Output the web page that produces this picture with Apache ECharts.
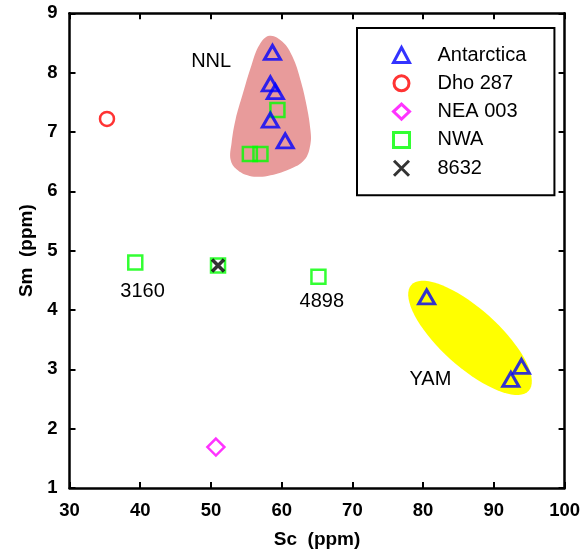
<!DOCTYPE html>
<html><head><meta charset="utf-8">
<script src="https://cdn.jsdelivr.net/npm/echarts@6/dist/echarts.min.js"></script>
<style>html,body{margin:0;padding:0;background:#fff}#c{width:583px;height:554px}</style>
</head><body><div id="c"></div>
<script>
// ---- data ----
const xTicks = [30, 40, 50, 60, 70, 80, 90, 100];
const yTicks = [1, 2, 3, 4, 5, 6, 7, 8, 9];
const antarcticaSc = [58.7, 58.4, 59.1, 58.4, 60.5, 80.5, 93.9, 92.4];
const antarcticaSm = [8.34, 7.81, 7.68, 7.20, 6.85, 4.22, 3.05, 2.83];
const dhoSc = [35.3];
const dhoSm = [7.22];
const neaSc = [50.7];
const neaSm = [1.69];
const nwaSc = [59.4, 55.5, 57.0, 39.3, 51.0, 65.2];
const nwaSm = [7.37, 6.63, 6.63, 4.80, 4.75, 4.56];
const x8632Sc = [51.0];
const x8632Sm = [4.75];
const noteText = ['NNL', '3160', '4898', 'YAM'];
const noteSc = [50.1, 40.4, 65.75, 81.1];
const noteSm = [8.18, 4.31, 4.14, 2.82];
// NNL field outline (Sc, Sm)
const nnlSc = [58.28, 60.11, 61.52, 62.65, 63.50, 64.06, 64.06, 63.22, 61.10, 58.00, 55.46, 53.62, 52.78, 52.92, 53.48, 54.47, 55.74, 56.87];
const nnlSm = [8.62, 8.52, 8.27, 7.88, 7.46, 7.04, 6.79, 6.53, 6.37, 6.26, 6.26, 6.37, 6.53, 6.82, 7.21, 7.63, 8.13, 8.47];
// YAM field centre (Sc, Sm)
const yamCenter = [86.63, 3.53];

const FONT = "'Liberation Sans', Arial, sans-serif";
const zip = (a, b) => a.map((v, i) => [v, b[i]]);

const chart = echarts.init(document.getElementById('c'), null, {renderer: 'canvas'});

const axisCommon = {
  axisLine: {show: true, lineStyle: {color: '#000', width: 2.5}},
  axisTick: {show: true, inside: true, length: 6, lineStyle: {color: '#000', width: 2}},
  splitLine: {show: false}
};

const option = {
  animation: false,
  backgroundColor: '#fff',
  grid: {left: 69.5, right: 16.5, top: 13.3, bottom: 65, containLabel: false},
  xAxis: [
    Object.assign({type: 'value', min: 30, max: 100, interval: 10, position: 'bottom',
      name: 'Sc  (ppm)', nameLocation: 'middle', nameGap: 42,
      nameTextStyle: {fontFamily: FONT, fontWeight: 'bold', fontSize: 19, color: '#000'},
      axisLabel: {fontFamily: FONT, fontWeight: 'bold', fontSize: 18.5, color: '#000', margin: 13,
        formatter: v => xTicks.includes(v) ? String(v) : ''}}, axisCommon),
    Object.assign({type: 'value', min: 30, max: 100, interval: 10, position: 'top',
      axisLabel: {show: false}}, axisCommon)
  ],
  yAxis: [
    Object.assign({type: 'value', min: 1, max: 9, interval: 1, position: 'left',
      name: 'Sm  (ppm)', nameLocation: 'middle', nameGap: 33,
      nameTextStyle: {fontFamily: FONT, fontWeight: 'bold', fontSize: 19, color: '#000'},
      axisLabel: {fontFamily: FONT, fontWeight: 'bold', fontSize: 18.5, color: '#000', margin: 12,
        formatter: v => yTicks.includes(v) ? String(v) : ''}}, axisCommon),
    Object.assign({type: 'value', min: 1, max: 9, interval: 1, position: 'right',
      axisLabel: {show: false}}, axisCommon)
  ],
  legend: {
    show: true,
    data: ['Antarctica', 'Dho 287', 'NEA 003', 'NWA', '8632'],
    orient: 'vertical',
    left: 357, top: 28,
    padding: [17, 28, 17, 34],
    itemWidth: 16, itemHeight: 15, itemGap: 8.3,
    borderColor: '#000', borderWidth: 2, backgroundColor: '#fff',
    itemStyle: {borderWidth: 3},
    textStyle: {fontFamily: FONT, fontSize: 20, color: '#000', padding: [0, 0, 0, 23]},
    selectedMode: false
  },
  series: [
    {
      type: 'custom', name: 'NNLfield', z: 1, silent: true,
      data: [0],
      renderItem: function (params, api) {
        const pts = nnlSc.map((x, i) => api.coord([x, nnlSm[i]]));
        return {type: 'polygon', shape: {points: pts, smooth: 0.4}, style: {fill: '#e89b9b', stroke: null}};
      }
    },
    {
      type: 'custom', name: 'YAMfield', z: 1, silent: true,
      data: [yamCenter],
      renderItem: function (params, api) {
        const c = api.coord([api.value(0), api.value(1)]);
        const a = 79, b = 29, th = 42 * Math.PI / 180;
        const pts = [];
        for (let k = 0; k < 72; k++) {
          const t = k / 72 * 2 * Math.PI;
          const ex = a * Math.cos(t), ey = b * Math.sin(t);
          pts.push([c[0] + ex * Math.cos(th) - ey * Math.sin(th), c[1] + ex * Math.sin(th) + ey * Math.cos(th)]);
        }
        return {type: 'polygon', shape: {points: pts}, style: {fill: '#ffff00', stroke: null}};
      }
    },
    {
      type: 'scatter', name: 'NWA', z: 3, data: zip(nwaSc, nwaSm),
      symbol: 'rect', symbolSize: 14,
      itemStyle: {color: 'none', borderColor: '#00ff00', borderWidth: 2.5}
    },
    {
      type: 'scatter', name: 'Antarctica', z: 4, data: zip(antarcticaSc, antarcticaSm),
      symbol: 'triangle', symbolSize: [16, 14],
      itemStyle: {color: 'none', borderColor: '#0000ff', borderWidth: 3}
    },
    {
      type: 'scatter', name: 'Dho 287', z: 4, data: zip(dhoSc, dhoSm),
      symbol: 'circle', symbolSize: 14,
      itemStyle: {color: 'none', borderColor: '#ff0000', borderWidth: 2.5}
    },
    {
      type: 'scatter', name: 'NEA 003', z: 4, data: zip(neaSc, neaSm),
      symbol: 'diamond', symbolSize: 17,
      itemStyle: {color: 'none', borderColor: '#ff00ff', borderWidth: 2.5}
    },
    {
      type: 'scatter', name: '8632', z: 5, data: zip(x8632Sc, x8632Sm),
      symbol: 'path://M0,0L10,10M10,0L0,10', symbolSize: 12,
      itemStyle: {color: 'none', borderColor: '#000', borderWidth: 3.5}
    },
    {
      type: 'scatter', name: 'notes', z: 6, silent: true,
      data: noteSc.map((x, i) => ({value: [x, noteSm[i]], name: noteText[i]})),
      symbolSize: 1, itemStyle: {color: 'rgba(0,0,0,0)'},
      label: {show: true, position: [0, 0], align: 'center', verticalAlign: 'middle',
        formatter: p => p.name, fontFamily: FONT, fontSize: 20, color: '#000', opacity: 1}
    }
  ]
};
chart.setOption(option);
</script>
</body></html>
